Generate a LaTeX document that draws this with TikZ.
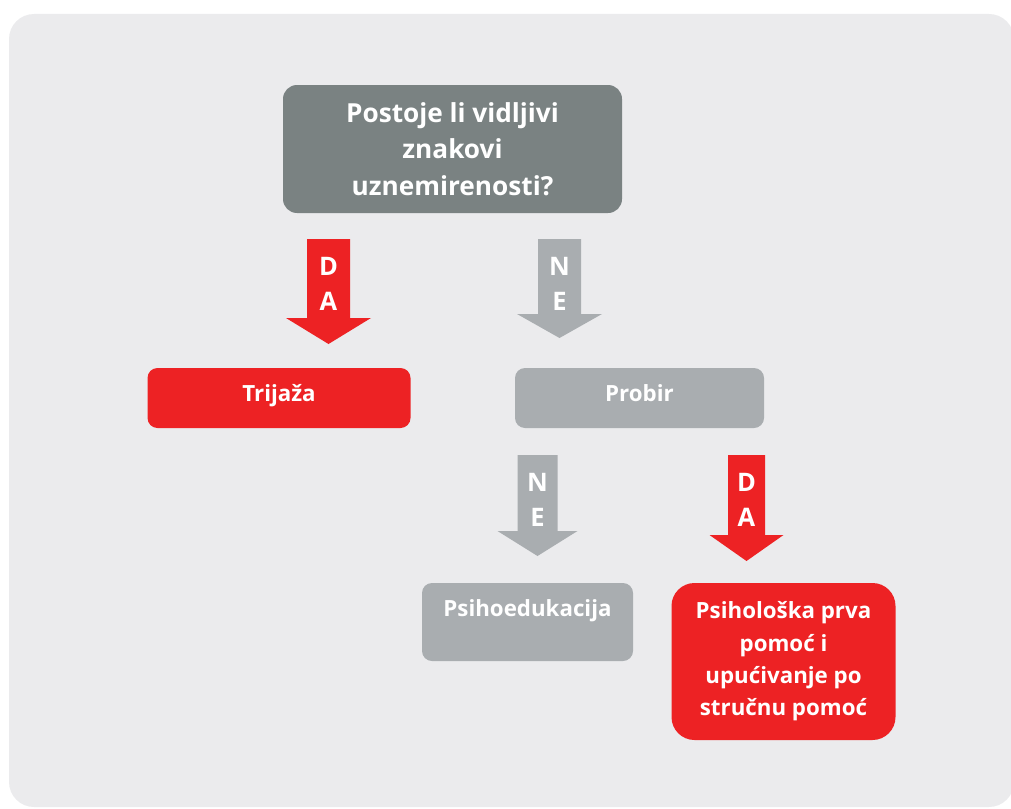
\documentclass[tikz,border=0pt]{standalone}
\usepackage{fontspec}
\setmainfont{Open Sans}
\usetikzlibrary{positioning}
\definecolor{pozadina}{HTML}{EBEBED}
\definecolor{tamnosiva}{HTML}{7A8282}
\definecolor{siva}{HTML}{A9ADB0}
\definecolor{crvena}{HTML}{ED2224}

\begin{document}
\begin{tikzpicture}[x=1pt,y=-1pt]
\tikzstyle{kutija}=[rounded corners=10pt,text=white,align=center,inner sep=0pt,font=\bfseries\fontsize{22.3}{32.3}\selectfont]
\tikzstyle{slova}=[text=white,align=center,inner sep=0pt,font=\bfseries\fontsize{25.5}{35}\selectfont]
\useasboundingbox (0,0) rectangle (1011,808);
\clip (0,0) rectangle (1011,808);
\fill[pozadina,rounded corners=25pt] (9,14) rectangle (1014,807);

% pitanje na vrhu
\node[kutija,fill=tamnosiva,minimum width=339,minimum height=128,rounded corners=14pt,
  font=\bfseries\fontsize{26.2}{36.7}\selectfont] (pitanje) at (452.5,149)
  {Postoje li vidljivi\\znakovi\\uznemirenosti?};

\node[kutija,fill=crvena,minimum width=263,minimum height=60,text height=17pt,text depth=10.5pt] (trijaza) at (279,398) {Trija\v{z}a};
\node[kutija,fill=siva,minimum width=249,minimum height=60,text height=17pt,text depth=10.5pt] (probir) at (639.5,398) {Probir};
\node[kutija,fill=siva,minimum width=211,minimum height=78,text height=17pt,text depth=29pt] (psihoedukacija) at (527.5,622) {Psihoedukacija};
\node[kutija,fill=crvena,minimum width=224,minimum height=157,rounded corners=23pt] (pomoc) at (783.5,661.5)
  {Psihološka prva\\pomoć i\\upućivanje po\\stručnu pomoć};

% strelice DA / NE
\foreach \cx/\ya/\yb/\yc/\hw/\hh/\boja/\ime/\tekst in {
    328.5/239/318/344/21.5/42.5/crvena/da1/{D\\A},
    559.5/239/314/338/21.5/42.5/siva/ne1/{N\\E},
    537.5/455/531/556/20/40/siva/ne2/{N\\E},
    746.5/455/535/561/18.5/37/crvena/da2/{D\\A}} {
  \fill[\boja] ({\cx-\hw},\ya) -- ({\cx+\hw},\ya) -- ({\cx+\hw},\yb) -- ({\cx+\hh},\yb)
    -- (\cx,\yc) -- ({\cx-\hh},\yb) -- ({\cx-\hw},\yb) -- cycle;
  \node[slova] (\ime) at (\cx,{\ya+45}) {\tekst};
}
\end{tikzpicture}
\end{document}
